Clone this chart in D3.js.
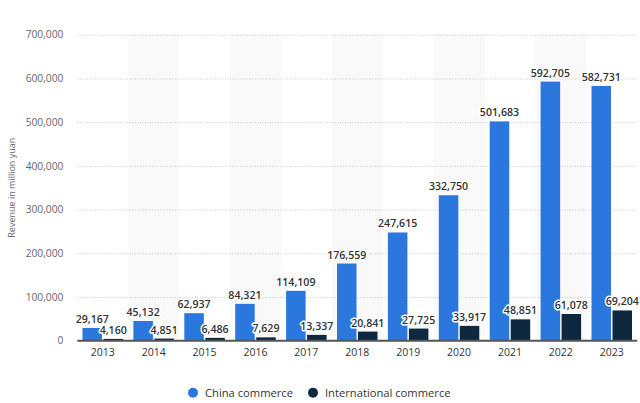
<!DOCTYPE html>
<html><head><meta charset="utf-8">
<script src="https://cdn.jsdelivr.net/npm/d3@7"></script>
<style>
html,body{margin:0;padding:0;background:#fff;}
svg{display:block;font-family:"Open Sans",sans-serif;}
</style></head>
<body><svg id="c" width="640" height="403"></svg>
<script>
const years = ["2013","2014","2015","2016","2017","2018","2019","2020","2021","2022","2023"];
const chinaCommerce = [29167,45132,62937,84321,114109,176559,247615,332750,501683,592705,582731];
const internationalCommerce = [4160,4851,6486,7629,13337,20841,27725,33917,48851,61078,69204];
const seriesNames = ["China commerce","International commerce"];
const yTicks = [0,100000,200000,300000,400000,500000,600000,700000];
const colors = ["#2a78de","#0e2840"];

const svg = d3.select("#c");
const pL = 77.3, pR = 637.2, pT = 34.7, pB = 340.7;
const x = d3.scaleBand().domain(years).range([pL,pR]).paddingInner(0).paddingOuter(0);
const y = d3.scaleLinear().domain([0,700000]).range([pB,pT]);
const xs = d3.scaleBand().domain([0,1]).range([5.2, x.bandwidth()-5.2]).paddingInner(0.07);

// alternating bands
svg.append("g").selectAll("rect").data(years.filter((d,i)=>i%2===1)).join("rect")
  .attr("x",d=>x(d)).attr("width",x.bandwidth()).attr("y",pT).attr("height",pB-pT)
  .attr("fill","#f9f9f9");

// grid
const grid = svg.append("g").attr("transform",`translate(${pL},0)`)
  .call(d3.axisLeft(y).tickValues(yTicks.filter(d=>d>0)).tickSize(-(pR-pL)).tickFormat(""));
grid.select(".domain").remove();
grid.selectAll("line").attr("stroke","#c8c8c8").attr("stroke-dasharray","1,1.5");

// y labels
const ya = svg.append("g").attr("transform",`translate(${pL},0)`)
  .call(d3.axisLeft(y).tickValues(yTicks).tickSize(0).tickPadding(14).tickFormat(d3.format(",")));
ya.select(".domain").remove();
ya.selectAll("text").attr("fill","#666").style("font-size","10.2px").style("font-family","Open Sans, sans-serif");

svg.append("text").attr("transform",`translate(15,${(pT+pB)/2}) rotate(-90)`)
  .attr("text-anchor","middle").attr("fill","#666").style("font-size","9px").text("Revenue in million yuan");

const series = [chinaCommerce, internationalCommerce];
const data = [];
years.forEach((yr,i)=>series.forEach((s,j)=>data.push({yr,j,v:s[i]})));

svg.append("g").selectAll("rect").data(data).join("rect")
  .attr("x",d=>x(d.yr)+xs(d.j)).attr("width",xs.bandwidth())
  .attr("y",d=>y(d.v)).attr("height",d=>pB-y(d.v)).attr("fill",d=>colors[d.j]);

// baseline
svg.append("line").attr("x1",pL).attr("x2",pR).attr("y1",pB).attr("y2",pB)
  .attr("stroke","#555").attr("stroke-width",2);

// x axis labels
const xa = svg.append("g").attr("transform",`translate(0,${pB})`)
  .call(d3.axisBottom(x).tickSize(0).tickPadding(8));
xa.select(".domain").remove();
xa.selectAll("text").attr("fill","#333").style("font-size","10.5px").style("font-family","Open Sans, sans-serif");

// value labels
svg.append("g").selectAll("text").data(data).join("text")
  .attr("x",d=>x(d.yr)+xs(d.j)+xs.bandwidth()/2).attr("y",d=>y(d.v)-5)
  .attr("text-anchor","middle").style("font-size","10.6px").style("font-weight","600")
  .attr("fill","#333").attr("stroke","#fff").attr("stroke-width",3).attr("paint-order","stroke")
  .attr("stroke-linejoin","round")
  .text(d=>d3.format(",")(d.v));

// legend
const lg = svg.append("g");
const lx = [193, 313];
seriesNames.forEach((n,i)=>{
  lg.append("circle").attr("cx",lx[i]).attr("cy",392.7).attr("r",5).attr("fill",colors[i]);
  lg.append("text").attr("x",lx[i]+12).attr("y",396.6).attr("fill","#333")
    .style("font-size","11.2px").text(n);
});
</script></body></html>
